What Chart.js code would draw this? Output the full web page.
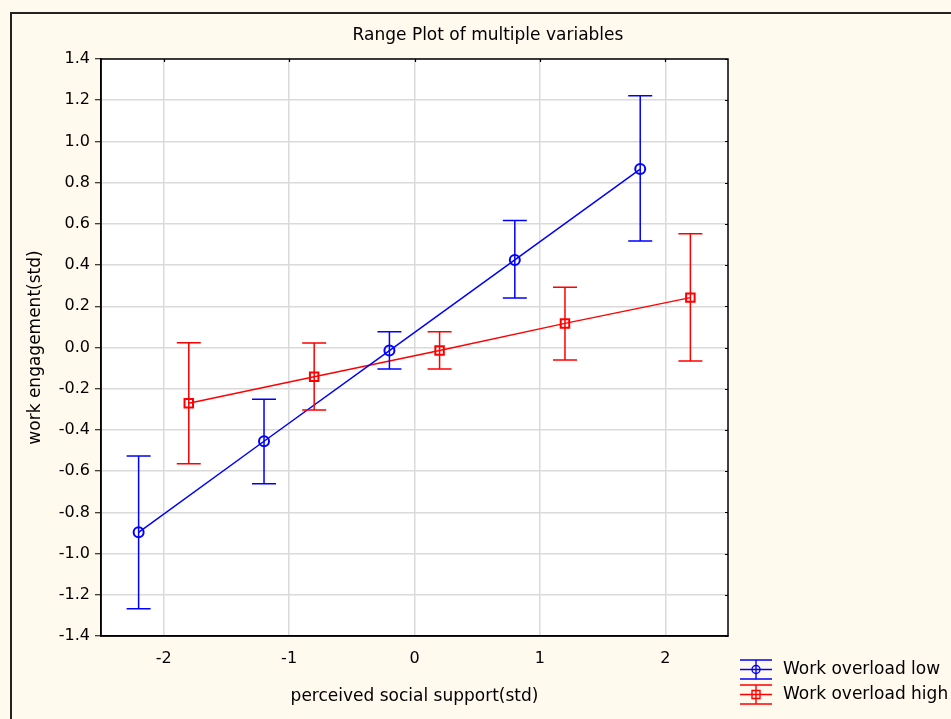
<!DOCTYPE html>
<html>
<head>
<meta charset="utf-8">
<script src="https://cdn.jsdelivr.net/npm/chart.js@4/dist/chart.umd.min.js"></script>
<style>
  html, body { margin: 0; padding: 0; background: #FFF9EE; }
  #wrap { width: 951px; height: 719px; }
</style>
</head>
<body>
<div id="wrap"><canvas id="c" width="951" height="719"></canvas></div>
<script>
// ---- data ----
const chartTitle = 'Range Plot of multiple variables';
const xTitle = 'perceived social support(std)';
const yTitle = 'work engagement(std)';
const seriesNames = ['Work overload low', 'Work overload high'];

const xLow = [-2.2, -1.2, -0.2, 0.8, 1.8];
const meanLow = [-0.897, -0.455, -0.015, 0.425, 0.866];
const upperLow = [-0.527, -0.251, 0.077, 0.616, 1.222];
const lowerLow = [-1.268, -0.661, -0.104, 0.240, 0.517];

const xHigh = [-1.8, -0.8, 0.2, 1.2, 2.2];
const meanHigh = [-0.271, -0.142, -0.015, 0.117, 0.242];
const upperHigh = [0.023, 0.022, 0.077, 0.292, 0.552];
const lowerHigh = [-0.564, -0.303, -0.104, -0.061, -0.066];

const xTicks = [-2, -1, 0, 1, 2];
const yTicks = [-1.4, -1.2, -1.0, -0.8, -0.6, -0.4, -0.2, 0.0, 0.2, 0.4, 0.6, 0.8, 1.0, 1.2, 1.4];

// ---- styling ----
const BLUE = '#0000FF';
const RED = '#FF0000';
const BG = '#FFF9EE';
const FONT = 'DejaVu Sans, Arial, sans-serif';

const lowPts = xLow.map((x, i) => ({ x: x, y: meanLow[i], lo: lowerLow[i], hi: upperLow[i] }));
const highPts = xHigh.map((x, i) => ({ x: x, y: meanHigh[i], lo: lowerHigh[i], hi: upperHigh[i] }));

const decorPlugin = {
  id: 'decor',
  beforeDraw(chart) {
    const ctx = chart.ctx;
    const a = chart.chartArea;
    ctx.save();
    ctx.fillStyle = BG;
    ctx.fillRect(0, 0, chart.width, chart.height);
    ctx.fillStyle = '#FFFFFF';
    ctx.fillRect(a.left, a.top, a.right - a.left, a.bottom - a.top);
    // outer frame
    ctx.strokeStyle = '#222';
    ctx.lineWidth = 2;
    ctx.beginPath();
    ctx.moveTo(11, chart.height + 2);
    ctx.lineTo(11, 13);
    ctx.lineTo(chart.width + 2, 13);
    ctx.stroke();
    // title
    ctx.fillStyle = '#000';
    ctx.font = '17px ' + FONT;
    ctx.textAlign = 'center';
    ctx.textBaseline = 'middle';
    ctx.fillText(chartTitle, 488, 36);
    ctx.restore();
  },
  afterDatasetsDraw(chart) {
    const ctx = chart.ctx;
    const xs = chart.scales.x, ys = chart.scales.y;
    const cap = 12;
    ctx.save();
    ctx.lineWidth = 1.5;
    chart.data.datasets.forEach(ds => {
      ctx.strokeStyle = ds.borderColor;
      ds.data.forEach(p => {
        const px = xs.getPixelForValue(p.x);
        const pt = ys.getPixelForValue(p.hi);
        const pb = ys.getPixelForValue(p.lo);
        ctx.beginPath();
        ctx.moveTo(px, pt); ctx.lineTo(px, pb);
        ctx.moveTo(px - cap, pt); ctx.lineTo(px + cap, pt);
        ctx.moveTo(px - cap, pb); ctx.lineTo(px + cap, pb);
        ctx.stroke();
      });
    });
    ctx.restore();
  },
  afterDraw(chart) {
    const ctx = chart.ctx;
    const a = chart.chartArea;
    const xs = chart.scales.x, ys = chart.scales.y;
    ctx.save();
    ctx.strokeStyle = '#000';
    ctx.lineWidth = 1.5;
    ctx.strokeRect(a.left, a.top, a.right - a.left, a.bottom - a.top);
    // inward ticks on right and top edges
    ctx.lineWidth = 1.2;
    ctx.beginPath();
    yTicks.forEach(v => {
      const py = Math.round(ys.getPixelForValue(v)) + 0.5;
      ctx.moveTo(a.right - 3, py); ctx.lineTo(a.right, py);
    });
    xTicks.forEach(v => {
      const px = Math.round(xs.getPixelForValue(v)) + 0.5;
      ctx.moveTo(px, a.top); ctx.lineTo(px, a.top + 3);
    });
    ctx.stroke();
    // legend
    const rows = [
      { name: seriesNames[0], color: BLUE, shape: 'circle', y: 669.5 },
      { name: seriesNames[1], color: RED, shape: 'square', y: 694.5 }
    ];
    rows.forEach(r => {
      const x0 = 740, x1 = 772, xc = 756;
      ctx.strokeStyle = r.color;
      ctx.lineWidth = 1.4;
      ctx.beginPath();
      ctx.moveTo(x0, r.y - 9.5); ctx.lineTo(x1, r.y - 9.5);
      ctx.moveTo(x0, r.y); ctx.lineTo(x1, r.y);
      ctx.moveTo(x0, r.y + 9.5); ctx.lineTo(x1, r.y + 9.5);
      ctx.moveTo(xc, r.y - 9.5); ctx.lineTo(xc, r.y + 9.5);
      ctx.stroke();
      ctx.beginPath();
      if (r.shape === 'circle') ctx.arc(xc, r.y, 4, 0, Math.PI * 2);
      else ctx.rect(xc - 4, r.y - 4, 8, 8);
      ctx.stroke();
      ctx.fillStyle = '#000';
      ctx.font = '17px ' + FONT;
      ctx.textAlign = 'left';
      ctx.textBaseline = 'middle';
      ctx.fillText(r.name, 783, r.y);
    });
    ctx.restore();
  }
};

new Chart(document.getElementById('c'), {
  type: 'line',
  data: {
    datasets: [
      {
        label: seriesNames[0],
        data: lowPts,
        borderColor: BLUE,
        backgroundColor: 'rgba(0,0,0,0)',
        borderWidth: 1.5,
        pointStyle: 'circle',
        pointRadius: 5,
        pointBorderWidth: 2,
        pointBackgroundColor: 'rgba(0,0,0,0)',
        pointBorderColor: BLUE,
        tension: 0
      },
      {
        label: seriesNames[1],
        data: highPts,
        borderColor: RED,
        backgroundColor: 'rgba(0,0,0,0)',
        borderWidth: 1.5,
        pointStyle: 'rect',
        pointRadius: 6,
        pointBorderWidth: 2,
        pointBackgroundColor: 'rgba(0,0,0,0)',
        pointBorderColor: RED,
        tension: 0
      }
    ]
  },
  options: {
    responsive: false,
    animation: false,
    devicePixelRatio: 1,
    layout: { padding: { left: 0, top: 59, right: 223, bottom: 0 } },
    plugins: {
      legend: { display: false },
      title: { display: false },
      tooltip: { enabled: false }
    },
    scales: {
      x: {
        type: 'linear',
        min: -2.5, max: 2.5,
        afterBuildTicks: s => { s.ticks = xTicks.map(v => ({ value: v })); },
        afterFit: s => { s.height = 83; },
        ticks: {
          color: '#000',
          font: { family: FONT, size: 16 },
          padding: 13,
          callback: v => String(v)
        },
        grid: { color: '#DADADA', lineWidth: 1.5, drawTicks: false },
        border: { display: true, color: '#000', width: 1.5 },
        title: {
          display: true, text: xTitle, color: '#000',
          font: { family: FONT, size: 17 },
          padding: { top: 0, bottom: 12 }
        }
      },
      y: {
        type: 'linear',
        min: -1.4, max: 1.4,
        afterBuildTicks: s => { s.ticks = yTicks.map(v => ({ value: v })); },
        afterFit: s => { s.width = 101; },
        ticks: {
          color: '#000',
          font: { family: FONT, size: 16 },
          padding: 5,
          callback: v => (Math.abs(v) < 1e-9 ? 0 : v).toFixed(1)
        },
        grid: { color: '#DADADA', lineWidth: 1.5, tickLength: 6, tickColor: '#000', tickWidth: 1 },
        border: { display: true, color: '#000', width: 1.5 },
        title: {
          display: true, text: yTitle, color: '#000',
          font: { family: FONT, size: 17 },
          padding: { top: 25, bottom: 0 }
        }
      }
    }
  },
  plugins: [decorPlugin]
});
</script>
</body>
</html>
